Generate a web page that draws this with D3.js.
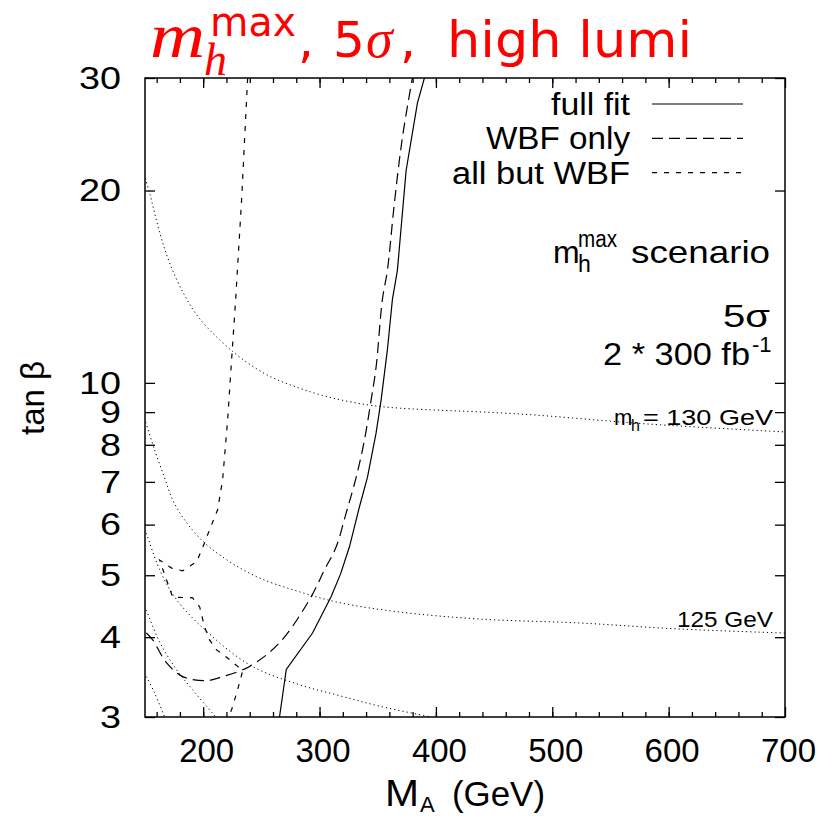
<!DOCTYPE html>
<html lang="en">

<head>
  <meta charset="utf-8">
  <title>mhmax 5 sigma high lumi</title>
  <style>
    body {
      margin: 0;
      background: #ffffff;
    }

    svg text {
      font-family: "Liberation Sans", Arial, Helvetica, sans-serif;
      fill: #000;
    }

    .title text {
      fill: #ff0000;
    }
  </style>
</head>

<body>
  <div id="chart"></div>
</body>
<script src="https://cdn.jsdelivr.net/npm/d3@7"></script>

<script>
  // axis ticks
  var xTicks = [200, 300, 400, 500, 600, 700];
  var xMinorTicks = d3.range(160, 700, 20);
  var yTicks = [3, 4, 5, 6, 7, 8, 9, 10, 20, 30];

  // full fit (solid)
  var fullFitMA = [265.6, 271.4, 294.0, 310.0, 318.0, 325.7, 334.3, 341.2, 348.6, 352.9, 358.3, 362.6, 366.9, 374.4, 384.1, 390.1];
  var fullFitTanB = [3.0, 3.56, 4.06, 4.63, 5.02, 5.54, 6.40, 7.12, 8.35, 9.40, 11.26, 13.5, 15.0, 21.5, 27.4, 30.0];

  // WBF only (long dashes)
  var wbfMA = [151.2, 156.6, 168.4, 182.4, 202.7, 216.7, 239.9, 265.6, 291.4, 304.3, 314.3, 322.9, 331.5, 338.6, 344.3, 348.6, 354.0, 358.3, 364.3, 371.2, 379.8];
  var wbfTanB = [4.06, 3.96, 3.65, 3.47, 3.42, 3.47, 3.60, 3.92, 4.58, 5.10, 5.54, 6.26, 7.12, 8.14, 9.40, 10.59, 13.5, 15.0, 19.1, 24.2, 30.0];

  // all but WBF (short dashes)
  var allButMA = [238.2, 233.0, 227.9, 224.4, 221.0, 216.7, 212.4, 205.5, 201.2, 194.4, 182.4, 172.9, 162.6, 166.9, 173.8, 190.9, 197.0, 201.2, 205.5, 211.5, 221.0, 229.6, 233.9, 229.6, 224.4, 221.8];
  var allButTanB = [30.0, 19.3, 13.5, 10.86, 8.75, 7.05, 6.33, 5.89, 5.62, 5.25, 5.08, 5.13, 5.28, 5.01, 4.62, 4.61, 4.46, 4.15, 3.96, 3.82, 3.71, 3.60, 3.54, 3.31, 3.08, 3.0];

  // m_h contours (dotted)
  var mh130MA = [150.2, 154.0, 162.6, 171.2, 184.1, 197.0, 225.3, 254.5, 282.8, 311.2, 342.9, 368.7, 471.8, 583.4, 700.0];
  var mh130TanB = [20.9, 19.8, 17.2, 15.4, 13.7, 12.6, 11.2, 10.3, 9.81, 9.47, 9.23, 9.13, 8.94, 8.62, 8.38];

  var mh125MA = [150.6, 158.3, 166.9, 173.8, 184.1, 201.2, 222.7, 248.5, 282.8, 317.1, 368.7, 437.3, 523.2, 609.0, 700.0];
  var mh125TanB = [8.68, 7.85, 7.10, 6.56, 6.10, 5.62, 5.25, 4.95, 4.71, 4.53, 4.38, 4.27, 4.21, 4.12, 4.06];

  var mh120MA = [151.2, 162.6, 175.6, 197.0, 239.9, 282.8, 317.1, 351.4, 396.0];
  var mh120TanB = [5.82, 5.10, 4.62, 4.18, 3.62, 3.37, 3.24, 3.12, 3.0];

  var mh115MA = [151.2, 162.6, 177.0, 192.7, 208.1, 210.7];
  var mh115TanB = [4.41, 3.93, 3.56, 3.28, 3.04, 3.0];

  var mh110MA = [151.2, 158.3, 166.9];
  var mh110TanB = [3.47, 3.27, 3.0];

  var legendLabels = ["full fit", "WBF only", "all but WBF"];
  var legendWidths = [79, 144, 178];

  var margin = {
      top: 78,
      left: 145
    },
    width = 785 - margin.left,
    height = 717 - margin.top;

  var svg = d3.select("#chart")
    .append("svg")
    .attr("width", 817)
    .attr("height", 818);

  var g = svg.append("g")
    .attr("transform", "translate(" + margin.left + "," + margin.top + ")");

  var x = d3.scaleLinear()
    .domain([150, 700])
    .range([0, width]);

  var y = d3.scaleLog()
    .domain([3, 30])
    .range([height, 0]);

  g.append("clipPath")
    .attr("id", "plotclip")
    .append("rect")
    .attr("width", width)
    .attr("height", height);

  // ticks, inward on all four sides
  function tickFormat(d) {
    return d;
  }
  var xAxis = g.append("g")
    .attr("transform", "translate(0," + height + ")")
    .call(d3.axisBottom(x).tickValues(xTicks).tickSize(-10).tickPadding(22).tickFormat(tickFormat));
  g.append("g")
    .attr("transform", "translate(0," + height + ")")
    .call(d3.axisBottom(x).tickValues(xMinorTicks).tickSize(-5).tickFormat(""));
  g.append("g")
    .call(d3.axisTop(x).tickValues(xTicks).tickSize(-10).tickFormat(""));
  g.append("g")
    .call(d3.axisTop(x).tickValues(xMinorTicks).tickSize(-5).tickFormat(""));
  var yAxis = g.append("g")
    .call(d3.axisLeft(y).tickValues(yTicks).tickSize(-10).tickPadding(24).tickFormat(tickFormat));
  g.append("g")
    .attr("transform", "translate(" + width + ",0)")
    .call(d3.axisRight(y).tickValues(yTicks).tickSize(-10).tickFormat(""));

  g.selectAll(".domain").remove();
  g.selectAll(".tick line").attr("stroke", "#000").attr("stroke-width", 1.3);
  g.selectAll(".tick text")
    .attr("fill", "#000")
    .style("font-family", "'Liberation Sans', Arial, sans-serif");
  xAxis.selectAll(".tick text")
    .attr("font-size", 33)
    .attr("dx", 3);
  yAxis.selectAll(".tick text")
    .attr("font-size", 32)
    .attr("lengthAdjust", "spacingAndGlyphs")
    .attr("textLength", function (d) {
      return String(d).length * 21;
    });

  g.append("rect")
    .attr("width", width)
    .attr("height", height)
    .attr("fill", "none")
    .attr("stroke", "#000")
    .attr("stroke-width", 1.5);

  function series(ma, tb) {
    return ma.map(function (d, i) {
      return [d, tb[i]];
    });
  }

  var smooth = d3.line()
    .x(function (d) {
      return x(d[0]);
    })
    .y(function (d) {
      return y(d[1]);
    })
    .curve(d3.curveCatmullRom.alpha(0.5));

  var straight = d3.line()
    .x(function (d) {
      return x(d[0]);
    })
    .y(function (d) {
      return y(d[1]);
    });

  var plot = g.append("g").attr("clip-path", "url(#plotclip)");

  var dotted = [
    series(mh130MA, mh130TanB),
    series(mh125MA, mh125TanB),
    series(mh120MA, mh120TanB),
    series(mh115MA, mh115TanB),
    series(mh110MA, mh110TanB)
  ];
  plot.selectAll(".mh")
    .data(dotted)
    .enter()
    .append("path")
    .attr("class", "mh")
    .attr("d", smooth)
    .attr("fill", "none")
    .attr("stroke", "#000")
    .attr("stroke-width", 1)
    .attr("stroke-dasharray", "1.2,3");

  plot.append("path")
    .attr("d", straight(series(fullFitMA, fullFitTanB)))
    .attr("fill", "none")
    .attr("stroke", "#000")
    .attr("stroke-width", 1.2);

  plot.append("path")
    .attr("d", smooth(series(wbfMA, wbfTanB)))
    .attr("fill", "none")
    .attr("stroke", "#000")
    .attr("stroke-width", 1.2)
    .attr("stroke-dasharray", "11,6");

  plot.append("path")
    .attr("d", straight(series(allButMA, allButTanB)))
    .attr("fill", "none")
    .attr("stroke", "#000")
    .attr("stroke-width", 1.2)
    .attr("stroke-dasharray", "5,7");

  // legend
  var dashes = ["none", "11,6", "5,7"];
  var legend = g.selectAll(".legend")
    .data(legendLabels)
    .enter()
    .append("g")
    .attr("class", "legend")
    .attr("transform", function (d, i) {
      return "translate(0," + (26 + i * 34.3) + ")";
    });
  legend.append("text")
    .attr("x", 485)
    .attr("y", 11)
    .attr("text-anchor", "end")
    .attr("font-size", 31)
    .attr("lengthAdjust", "spacingAndGlyphs")
    .attr("textLength", function (d, i) {
      return legendWidths[i];
    })
    .text(function (d) {
      return d;
    });
  legend.append("line")
    .attr("x1", 507)
    .attr("x2", 598)
    .attr("stroke", "#000")
    .attr("stroke-width", 1.2)
    .attr("stroke-dasharray", function (d, i) {
      return dashes[i];
    });

  // annotations (plot coordinates)
  g.append("text")
    .attr("x", 408)
    .attr("y", 185)
    .attr("font-size", 32)
    .text("m");
  g.append("text")
    .attr("x", 433)
    .attr("y", 169)
    .attr("font-size", 23)
    .attr("lengthAdjust", "spacingAndGlyphs")
    .attr("textLength", 39)
    .text("max");
  g.append("text")
    .attr("x", 433)
    .attr("y", 194)
    .attr("font-size", 23)
    .text("h");
  g.append("text")
    .attr("x", 625)
    .attr("y", 185)
    .attr("text-anchor", "end")
    .attr("font-size", 32)
    .attr("lengthAdjust", "spacingAndGlyphs")
    .attr("textLength", 139)
    .text("scenario");

  g.append("text")
    .attr("x", 625)
    .attr("y", 249)
    .attr("text-anchor", "end")
    .attr("font-size", 31)
    .attr("lengthAdjust", "spacingAndGlyphs")
    .attr("textLength", 47)
    .text("5\u03c3");

  g.append("text")
    .attr("x", 605)
    .attr("y", 287)
    .attr("text-anchor", "end")
    .attr("font-size", 31)
    .attr("lengthAdjust", "spacingAndGlyphs")
    .attr("textLength", 147)
    .text("2 * 300 fb");
  g.append("text")
    .attr("x", 607)
    .attr("y", 274)
    .attr("font-size", 22)
    .text("-1");

  g.append("text")
    .attr("x", 469)
    .attr("y", 347)
    .attr("font-size", 22)
    .text("m");
  g.append("text")
    .attr("x", 486)
    .attr("y", 353)
    .attr("font-size", 16)
    .text("h");
  g.append("text")
    .attr("x", 628)
    .attr("y", 347)
    .attr("text-anchor", "end")
    .attr("font-size", 22)
    .attr("lengthAdjust", "spacingAndGlyphs")
    .attr("textLength", 130)
    .text("= 130 GeV");

  g.append("text")
    .attr("x", 628)
    .attr("y", 549)
    .attr("text-anchor", "end")
    .attr("font-size", 22)
    .attr("lengthAdjust", "spacingAndGlyphs")
    .attr("textLength", 96)
    .text("125 GeV");

  // axis titles
  var yt = svg.append("text")
    .attr("transform", "translate(44,398) rotate(-90)")
    .attr("text-anchor", "middle")
    .attr("font-size", 33);
  yt.append("tspan").text("tan");
  yt.append("tspan").attr("dx", 9).text("\u03b2");

  svg.append("text")
    .attr("x", 385)
    .attr("y", 806)
    .attr("font-size", 36)
    .attr("lengthAdjust", "spacingAndGlyphs")
    .attr("textLength", 34)
    .text("M");
  svg.append("text")
    .attr("x", 420)
    .attr("y", 812)
    .attr("font-size", 22)
    .text("A");
  svg.append("text")
    .attr("x", 452)
    .attr("y", 806)
    .attr("font-size", 35)
    .attr("lengthAdjust", "spacingAndGlyphs")
    .attr("textLength", 93)
    .text("(GeV)");

  // title
  var title = svg.append("g").attr("class", "title");
  function titlePart(x0, y0, size, family, italic, txt, len) {
    var t = title.append("text")
      .attr("x", x0)
      .attr("y", y0)
      .attr("font-size", size)
      .style("font-family", family)
      .style("font-style", italic ? "italic" : "normal")
      .text(txt);
    if (len) {
      t.attr("lengthAdjust", "spacingAndGlyphs").attr("textLength", len);
    }
  }
  titlePart(150, 57, 64, "'Liberation Serif', serif", true, "m", 55);
  titlePart(210, 36, 40, "'DejaVu Sans', sans-serif", false, "max", 86);
  titlePart(204, 75, 46, "'Liberation Serif', serif", true, "h", 0);
  titlePart(298, 57, 50, "'DejaVu Sans', sans-serif", false, ",", 0);
  titlePart(333, 57, 50, "'DejaVu Sans', sans-serif", false, "5", 0);
  titlePart(366, 57, 54, "'Liberation Serif', serif", true, "\u03c3", 0);
  titlePart(400, 57, 50, "'DejaVu Sans', sans-serif", false, ",", 0);
  titlePart(447, 57, 50, "'DejaVu Sans', sans-serif", false, "high lumi", 245);
</script>

</html>
